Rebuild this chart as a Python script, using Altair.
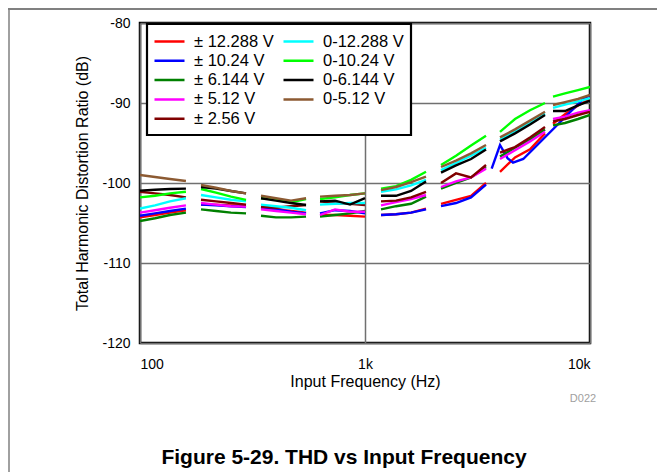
import altair as alt
import pandas as pd

# ---- data -------------------------------------------------------------
SERIES = ["± 12.288 V", "± 10.24 V", "± 6.144 V", "± 5.12 V", "± 2.56 V",
          "0-12.288 V", "0-10.24 V", "0-6.144 V", "0-5.12 V"]
COLORS = ["#FF0000", "#0000FF", "#008000", "#FF00FF", "#800000",
          "#00FFFF", "#00FF00", "#000000", "#8C5A32"]

# frequency points of each measured sweep segment (Hz)
SEG_FREQS = [
    [100, 116.6, 135.9, 160],
    [186.7, 217.7, 253.8, 296],
    [345, 402, 469, 547],
    [631, 736, 858, 1000],
    [1178, 1374, 1602, 1867],
    [2177, 2538, 2960, 3450],
    [3981, 4642, 5412, 6310],
    [6848, 7743, 8845, 10000],
]

# THD (dB) per series, per segment
RED = [[-104.3, -104.0, -103.7, -103.4], [-102.7, -102.7, -102.8, -102.8],
       [-103.2, -103.3, -103.5, -103.7], [-104.0, -104.0, -104.1, -104.2],
       [-104.0, -103.9, -103.7, -103.2], [-102.6, -102.1, -101.6, -100.0],
       [-98.6, -96.8, -95.8, -93.8], [-92.6, -91.4, -90.3, -89.5]]
BLUE = [[-104.1, -103.8, -103.5, -103.2], [-102.7, -102.8, -102.9, -103.0],
        [-103.0, -103.3, -103.6, -103.8], [-103.8, -103.4, -103.5, -103.8],
        [-104.0, -103.9, -103.7, -103.3], [-102.9, -102.5, -101.8, -100.2]]
BLUE_TAIL_FREQ = [3656, 3981, 4300, 4548, 5051, 9336, 10000]
BLUE_TAIL_VAL = [-98.2, -95.25, -96.9, -97.45, -97.0, -89.5, -89.0]
GREEN = [[-104.75, -104.4, -104.0, -103.7], [-103.3, -103.5, -103.7, -103.8],
         [-104.1, -104.3, -104.3, -104.2], [-104.2, -104.0, -103.8, -103.5],
         [-103.3, -102.9, -102.6, -101.7], [-100.7, -100.0, -99.3, -98.0],
         [-96.7, -95.6, -94.6, -93.3], [-92.8, -92.5, -92.0, -91.5]]
MAGENTA = [[-103.7, -103.4, -103.1, -102.8], [-102.5, -102.7, -102.9, -102.95],
           [-103.3, -103.5, -103.7, -103.9], [-104.0, -103.3, -103.6, -103.6],
           [-102.8, -102.4, -102.0, -101.5], [-100.5, -99.8, -99.3, -98.2],
           [-97.0, -95.9, -94.8, -93.6], [-92.0, -91.7, -91.2, -90.9]]
MAROON = [[-101.1, -101.3, -101.5, -101.8], [-102.1, -102.3, -102.5, -102.7],
          [-102.95, -103.1, -102.9, -102.75], [-102.3, -102.5, -102.6, -102.75],
          [-102.3, -102.2, -101.8, -101.1], [-100.0, -98.8, -99.3, -97.75],
          [-96.2, -95.5, -94.3, -93.0], [-92.3, -92.0, -91.5, -91.1]]
CYAN = [[-103.2, -102.8, -102.3, -101.9], [-101.5, -101.8, -102.1, -102.3],
        [-102.7, -102.9, -103.1, -103.4], [-102.7, -102.6, -102.5, -102.5],
        [-101.1, -100.8, -100.3, -99.6], [-98.4, -97.5, -96.6, -95.6],
        [-94.6, -93.5, -92.5, -91.3], [-90.6, -90.2, -89.8, -89.4]]
LIME = [[-101.8, -101.6, -101.3, -101.1], [-100.75, -101.2, -101.7, -102.1],
        [-101.9, -102.0, -102.4, -102.0], [-102.0, -101.8, -101.5, -101.3],
        [-100.7, -100.4, -99.6, -98.6], [-97.75, -96.6, -95.3, -94.1],
        [-93.6, -92.0, -90.9, -90.0], [-89.2, -88.8, -88.4, -88.0]]
BLACK = [[-100.95, -100.85, -100.75, -100.7], [-100.5, -100.7, -101.0, -101.3],
         [-101.9, -102.2, -102.5, -102.75], [-102.3, -102.2, -102.7, -101.9],
         [-101.6, -101.6, -101.0, -99.8], [-98.7, -97.8, -97.0, -95.8],
         [-94.8, -93.8, -92.7, -91.5], [-91.0, -91.0, -90.3, -89.7]]
BROWN = [[-99.0, -99.25, -99.5, -99.75], [-100.25, -100.6, -101.0, -101.3],
         [-101.6, -101.9, -102.2, -101.9], [-101.7, -101.6, -101.5, -101.3],
         [-100.9, -100.5, -99.9, -99.2], [-98.0, -97.2, -96.3, -95.25],
         [-94.3, -93.3, -92.2, -91.1], [-90.25, -89.9, -89.5, -89.0]]

VALUES = {"± 12.288 V": RED, "± 10.24 V": BLUE, "± 6.144 V": GREEN,
          "± 5.12 V": MAGENTA, "± 2.56 V": MAROON, "0-12.288 V": CYAN,
          "0-10.24 V": LIME, "0-6.144 V": BLACK, "0-5.12 V": BROWN}

rows = []
for name in SERIES:
    for si, seg in enumerate(VALUES[name]):
        for f, v in zip(SEG_FREQS[si], seg):
            rows.append({"series": name, "seg": f"{name}-{si}", "freq": f, "thd": v})
    if name == "± 10.24 V":
        for f, v in zip(BLUE_TAIL_FREQ, BLUE_TAIL_VAL):
            rows.append({"series": name, "seg": f"{name}-tail", "freq": f, "thd": v})
df = pd.DataFrame(rows)

FONT = "Liberation Sans"
W, H = 450, 320
PAD = {"left": 132, "top": 15, "right": 67, "bottom": 130}

lines = alt.Chart(df).mark_line(strokeWidth=2.4, clip=True).encode(
    x=alt.X("freq:Q",
            scale=alt.Scale(type="log", domain=[100, 10000], nice=False),
            axis=alt.Axis(values=[100, 1000, 10000], title="Input Frequency (Hz)",
                          labelExpr="datum.value >= 10000 ? '10k' : (datum.value >= 1000 ? '1k' : '100')",
                          grid=True, ticks=False, domain=False, labelPadding=14,
                          titlePadding=2)),
    y=alt.Y("thd:Q", scale=alt.Scale(domain=[-120, -80], nice=False),
            axis=alt.Axis(values=[-120, -110, -100, -90, -80],
                          labelExpr="'' + datum.value",
                          title="Total Harmonic Distortion Ratio (dB)",
                          grid=True, ticks=False, domain=False, labelPadding=10,
                          titlePadding=11)),
    color=alt.Color("series:N",
                    scale=alt.Scale(domain=SERIES, range=COLORS),
                    legend=alt.Legend(title=None, orient="none", legendX=6, legendY=3,
                                      columns=2, columnPadding=8, rowPadding=2.3,
                                      clipHeight=17, symbolType="stroke",
                                      symbolSize=900, symbolStrokeWidth=2.5,
                                      labelFont=FONT, labelFontSize=16.5, labelOffset=8,
                                      labelColor="black",
                                      padding=7, offset=0)),
    detail="seg:N",
)

frame_df = pd.DataFrame({"k": [0]})
legend_box = alt.Chart(frame_df).mark_rect(fill="white", stroke="black", strokeWidth=2.2).encode(
    x=alt.value(7), x2=alt.value(271), y=alt.value(1), y2=alt.value(112))

title_df = pd.DataFrame({"t": ["Figure 5-29. THD vs Input Frequency"]})
title = alt.Chart(title_df).mark_text(font=FONT, fontSize=21, fontWeight="bold",
                                      color="black", align="center", baseline="middle").encode(
    text="t:N", x=alt.value(204), y=alt.value(435))
tag_df = pd.DataFrame({"t": ["D022"]})
tag = alt.Chart(tag_df).mark_text(font=FONT, fontSize=11, color="#A0A0A0",
                                  align="center", baseline="middle").encode(
    text="t:N", x=alt.value(443), y=alt.value(376))

left_rule = alt.Chart(frame_df).mark_rule(color="#808080", strokeWidth=1.5).encode(
    x=alt.value(-131), y=alt.value(-15), y2=alt.value(450))
top_rule = alt.Chart(frame_df).mark_rule(color="#808080", strokeWidth=2).encode(
    x=alt.value(-132), x2=alt.value(517), y=alt.value(-14))

chart = alt.layer(lines, legend_box, title, tag, left_rule, top_rule).properties(
    width=W, height=H,
    autosize=alt.AutoSizeParams(type="none"),
    padding=PAD,
    background="white",
).configure_view(stroke="black", strokeWidth=2.5).configure_axis(
    labelFont=FONT, labelFontSize=14, labelColor="black",
    titleFont=FONT, titleFontSize=16, titleColor="black", titleFontWeight="normal",
    gridColor="#707070", gridWidth=1.5,
)

chart.save("out.html", embed_options={"renderer": "svg", "actions": False})
